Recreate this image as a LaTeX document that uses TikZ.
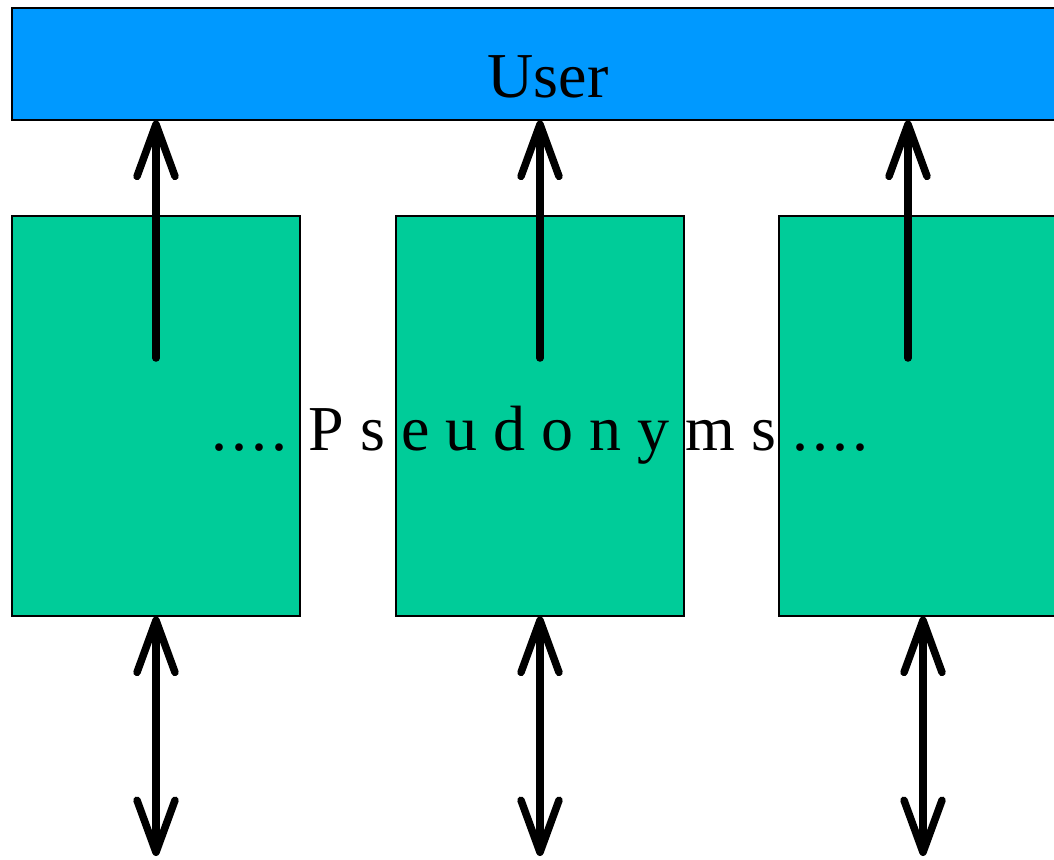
\documentclass[tikz,border=0pt]{standalone}
\usepackage{fontspec}
\setmainfont{Liberation Serif}
\usetikzlibrary{arrows.meta}
\definecolor{userblue}{HTML}{0099FF}
\definecolor{pseudogreen}{HTML}{00CC99}
\newcommand{\fourdots}{.\kern4pt.\kern4pt.\kern4pt.}
\tikzset{
  userbox/.style={draw=black, line width=1.2pt, fill=userblue, rectangle, inner sep=0pt},
  pbox/.style={draw=black, line width=1.2pt, fill=pseudogreen, rectangle, inner sep=0pt, minimum width=288pt, minimum height=400pt},
  bigtext/.style={font=\fontsize{64}{76}\selectfont, inner sep=0pt, anchor=base},
  conn/.style={line width=7.5pt, line cap=round, -{Straight Barb[length=52pt,width=38pt,round]}},
  dconn/.style={line width=7.5pt, line cap=round, {Straight Barb[length=52pt,width=38pt,round]}-{Straight Barb[length=52pt,width=38pt,round]}}
}
\begin{document}
\begin{tikzpicture}[x=1pt,y=-1pt]
\clip (0,0) rectangle (1054,859);
\fill[white] (0,0) rectangle (1054,859);
\node[userbox, minimum width=1072pt, minimum height=112pt] (user) at (548,64) {};
\node[bigtext] (usertext) at (548,97) {User};
\node[pbox] (p1) at (156,416) {};
\node[pbox] (p2) at (540,416) {};
\node[pbox] (p3) at (923,416) {};
\node[bigtext] (ptext) at (540,450) {\fourdots{} P s e u d o n y m s \fourdots};
\coordinate (u1) at (156,358);
\coordinate (u2) at (540,358);
\coordinate (u3) at (908,358);
\coordinate (d1) at (156,856);
\coordinate (d2) at (540,856);
\coordinate (d3) at (923,856);
\draw[conn] (u1) -- (u1 |- user.south);
\draw[conn] (u2) -- (u2 |- user.south);
\draw[conn] (u3) -- (u3 |- user.south);
\draw[dconn] (p1.south) -- (d1);
\draw[dconn] (p2.south) -- (d2);
\draw[dconn] (p3.south) -- (d3);
\end{tikzpicture}
\end{document}
